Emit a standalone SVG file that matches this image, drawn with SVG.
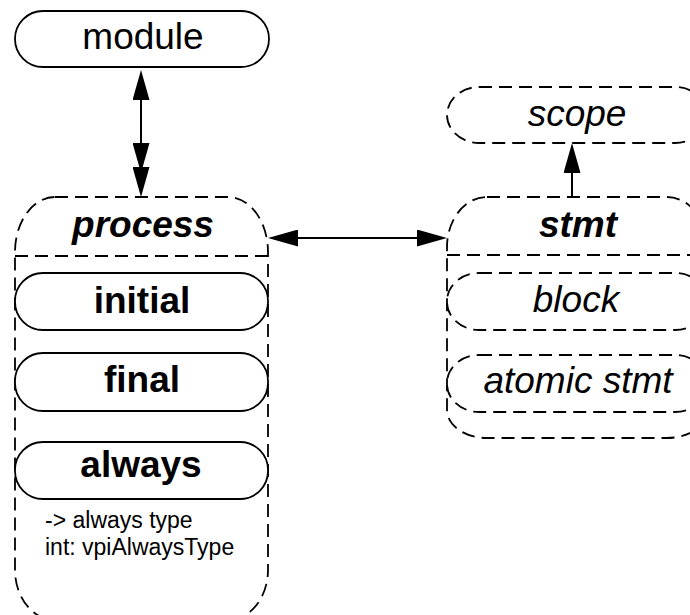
<svg xmlns="http://www.w3.org/2000/svg" width="690" height="615" viewBox="0 0 690 615">
<style>
.solid{fill:#fff;stroke:#000;stroke-width:1.8}
.dash{fill:none;stroke:#000;stroke-width:1.8;stroke-dasharray:13 7}
.lbl{font-family:"Liberation Sans",Arial,Helvetica,sans-serif;font-size:37px;text-anchor:middle;fill:#000}
.b{font-weight:bold}
.i{font-style:italic}
.note{font-family:"Liberation Sans",Arial,Helvetica,sans-serif;font-size:23px;fill:#000}
.conn{fill:none;stroke:#000;stroke-width:2}
</style>
<defs>
<marker id="ah" markerUnits="userSpaceOnUse" viewBox="0 0 30 17" markerWidth="30" markerHeight="17" refX="20" refY="8.5" orient="auto-start-reverse">
<path d="M0,0 L30,8.5 L0,17 Z" fill="#000"/>
</marker>
</defs>
<rect width="690" height="615" fill="#fff"/>
<g id="module">
<rect class="solid" x="15" y="11" width="254" height="56" rx="28" ry="28"/>
<text class="lbl" x="143" y="49">module</text>
</g>
<g id="process">
<path class="dash" d="M55,197 H228 A40 55 0 0 1 268,252 V570 A40 50 0 0 1 228,620 H55 A40 50 0 0 1 15,570 V252 A40 55 0 0 1 55,197 Z"/>
<line class="dash" x1="15" y1="256" x2="268" y2="256"/>
<text class="lbl b i" x="143" y="237">process</text>
<text class="note" x="45" y="528">-&gt; always type</text>
<text class="note" x="45" y="555">int: vpiAlwaysType</text>
</g>
<g id="initial">
<rect class="solid" x="15" y="273" width="253" height="57" rx="28" ry="28"/>
<text class="lbl b" x="142" y="313">initial</text>
</g>
<g id="final">
<rect class="solid" x="15" y="353" width="253" height="58" rx="28" ry="28"/>
<text class="lbl b" x="142" y="392">final</text>
</g>
<g id="always">
<rect class="solid" x="15" y="442" width="253" height="57" rx="28" ry="28"/>
<text class="lbl b" x="141" y="477">always</text>
</g>
<g id="scope">
<rect class="dash" x="447" y="87" width="260" height="56" rx="32" ry="28"/>
<text class="lbl i" x="577" y="126">scope</text>
</g>
<g id="stmt">
<path class="dash" d="M487,197 H667 A40 50 0 0 1 707,247 V410 A40 28 0 0 1 667,438 H487 A40 28 0 0 1 447,410 V247 A40 50 0 0 1 487,197 Z"/>
<line class="dash" x1="447" y1="255" x2="707" y2="255"/>
<text class="lbl b i" x="578" y="237">stmt</text>
</g>
<g id="block">
<rect class="dash" x="447" y="273" width="260" height="57" rx="32" ry="28"/>
<text class="lbl i" x="576" y="312">block</text>
</g>
<g id="atomic_stmt">
<rect class="dash" x="447" y="355" width="260" height="57" rx="32" ry="28"/>
<text class="lbl i" x="578" y="393">atomic stmt</text>
</g>
<g id="connectors">
<path class="conn" d="M141,80 L141,163 L141,187" marker-start="url(#ah)" marker-mid="url(#ah)" marker-end="url(#ah)"/>
<path class="conn" d="M278,238 L437,238" marker-start="url(#ah)" marker-end="url(#ah)"/>
<path class="conn" d="M572,197 L572,153" marker-end="url(#ah)"/>
</g>
</svg>
